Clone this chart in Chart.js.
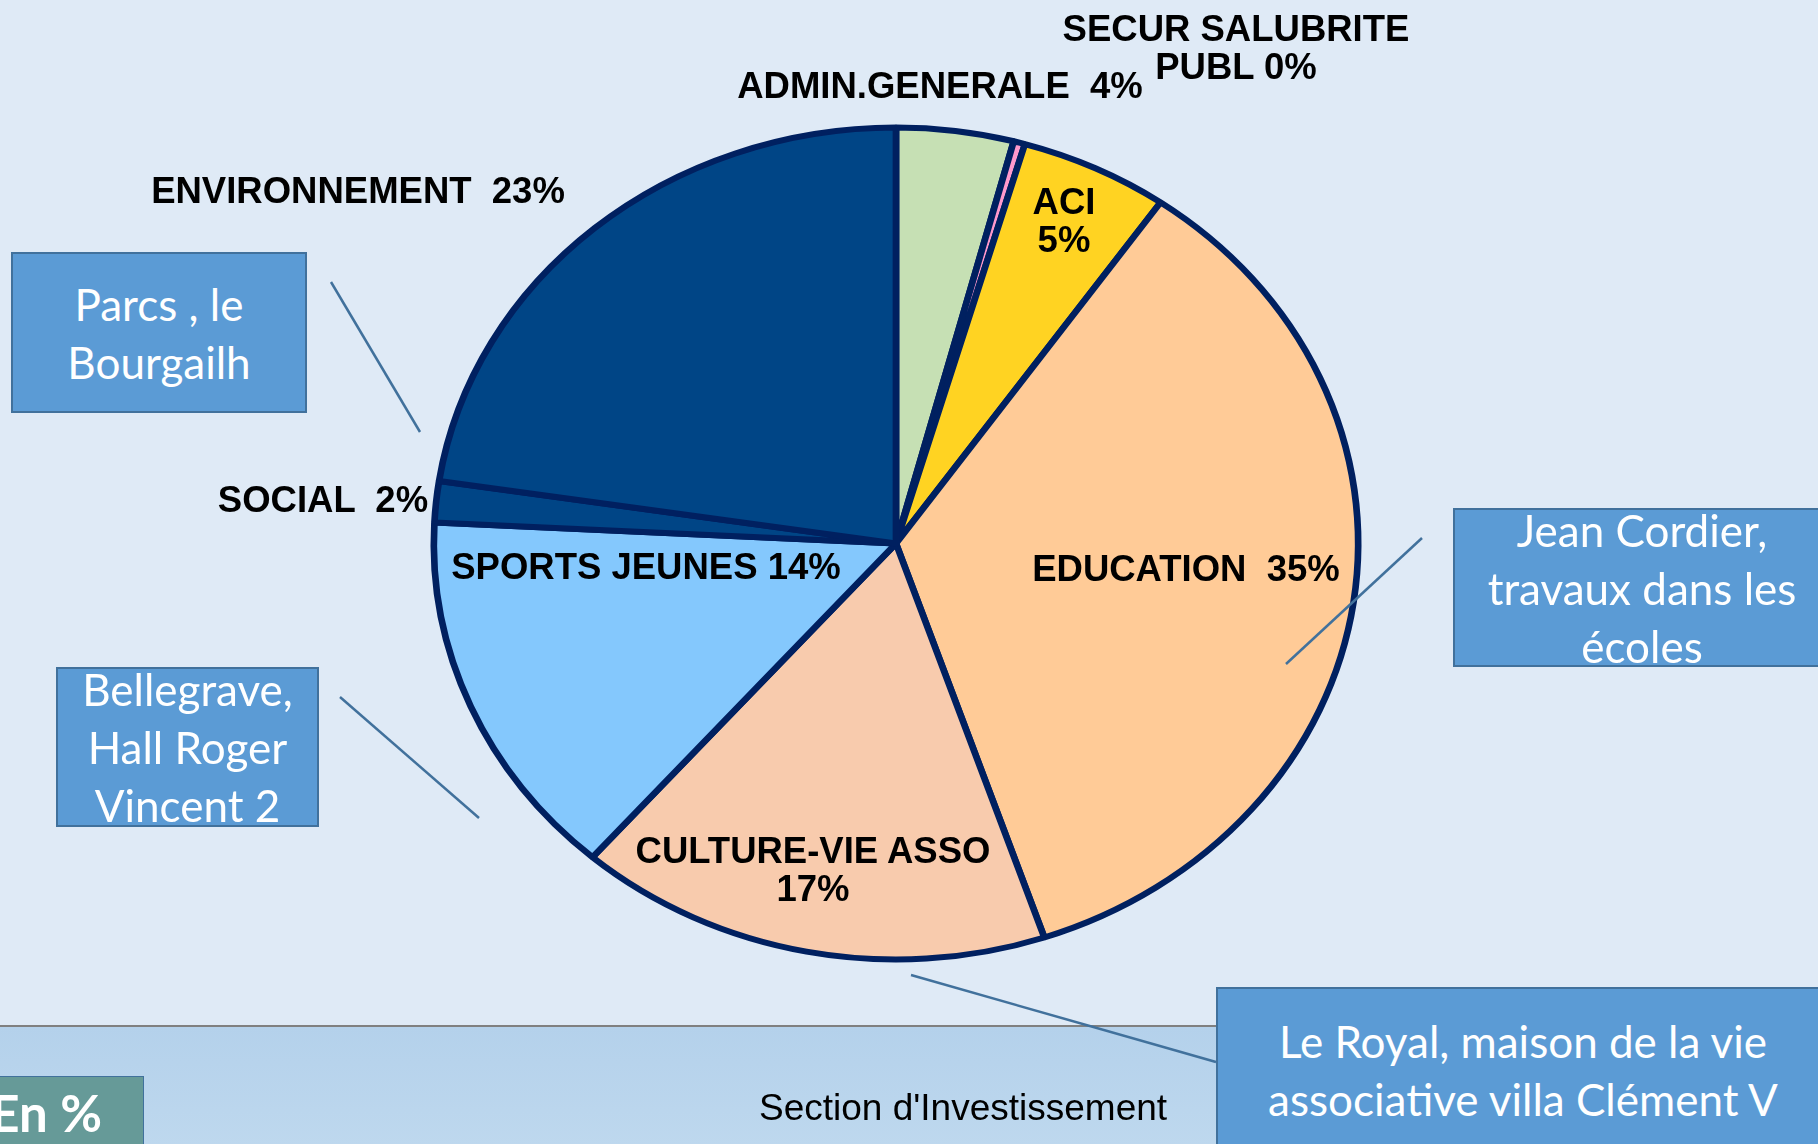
<!DOCTYPE html>
<html lang="fr">
<head>
    <meta charset="UTF-8">
    <title>Section d'Investissement</title>
    <style>
        html, body {
            margin: 0;
            padding: 0;
        }

        body {
            width: 1818px;
            height: 1144px;
            overflow: hidden;
            background: #dfeaf6;
            position: relative;
            font-family: "Liberation Sans", Arial, sans-serif;
        }

        .band {
            position: absolute;
            left: 0;
            top: 1025px;
            width: 1818px;
            height: 119px;
            border-top: 2px solid #808080;
            background: linear-gradient(to bottom, #b4d1eb, #bed8ee);
        }

        #pie {
            position: absolute;
            left: 0;
            top: 0;
        }

        #links {
            position: absolute;
            left: 0;
            top: 0;
        }

        .note {
            position: absolute;
            box-sizing: border-box;
            background: #5b9bd5;
            border: 2px solid #41719c;
            color: #fff;
            font-family: Lato, "Open Sans", sans-serif;
            font-size: 44px;
            line-height: 58px;
            white-space: pre;
            text-align: center;
            display: flex;
            align-items: center;
            justify-content: center;
        }

        .label {
            position: absolute;
            transform: translate(-50%, -50%);
            font-weight: bold;
            font-size: 36.5px;
            line-height: 38px;
            color: #000;
            white-space: pre;
            text-align: center;
        }

        .title {
            position: absolute;
            left: 759px;
            top: 1088px;
            font-size: 37px;
            line-height: 40px;
            color: #000;
            white-space: pre;
        }

        .unit {
            position: absolute;
            left: -4px;
            top: 1076px;
            width: 148px;
            height: 80px;
            box-sizing: border-box;
            background: #669a98;
            border: 1.5px solid #41719c;
        }

        .unit span {
            position: absolute;
            right: 41px;
            top: 6px;
            font-family: Lato, sans-serif;
            font-weight: bold;
            font-size: 51px;
            line-height: 60px;
            color: #fff;
            white-space: pre;
        }
    </style>
</head>
<body>
    <div class="band"></div>
    <canvas id="pie" width="1818" height="1144"></canvas>
    <svg id="links" width="1818" height="1144"></svg>
    <div id="overlay"></div>
    <div class="title">Section d'Investissement</div>
    <div class="unit"><span>En %</span></div>

    <script src="https://cdn.jsdelivr.net/npm/chart.js"></script>
    <script>
        // investment split by sector, in %
        var categories = ['ADMIN.GENERALE', 'SECUR SALUBRITE\nPUBL', 'ACI', 'EDUCATION',
            'CULTURE-VIE ASSO', 'SPORTS JEUNES', 'SOCIAL', 'ENVIRONNEMENT'];
        var values = [4.1, 0.4, 5.2, 35.1, 16.6, 14.4, 1.6, 22.6];
        var colors = ['#c6e0b4', '#ff99cc', '#ffd322', '#ffcb97', '#f8cbad', '#84c8fd', '#004586', '#004586'];

        // where each slice label sits and how name and % are joined
        var labelPos = [[940, 86], [1236, 48], [1064, 221], [1186, 569], [813, 870], [646, 567], [323, 500], [358, 191]];
        var labelSep = ['  ', ' ', '\n', '  ', '\n', ' ', '  ', '  '];

        // callouts
        var notes = [
            'Parcs , le\nBourgailh',
            'Jean Cordier,\ntravaux dans les\nécoles',
            'Bellegrave,\nHall Roger\nVincent 2',
            'Le Royal, maison de la vie\nassociative villa Clément V'
        ];
        var noteBoxes = [[11, 252, 296, 161], [1453, 508, 378, 159], [56, 667, 263, 160], [1216, 987, 614, 165]];
        var noteLines = [[331, 282, 420, 432], [1422, 538, 1286, 664], [340, 697, 479, 818], [911, 975, 1216, 1062]];

        var stretchX = 1.111; // the pie is drawn a bit wider than tall

        var stretchPie = {
            id: 'stretchPie',
            beforeDatasetsDraw: function (chart) {
                var arc = chart.getDatasetMeta(0).data[0];
                var ctx = chart.ctx;
                ctx.save();
                ctx.translate(arc.x, arc.y);
                ctx.scale(stretchX, 1);
                ctx.translate(-arc.x, -arc.y);
            },
            afterDatasetsDraw: function (chart) {
                chart.ctx.restore();
            }
        };

        var ctx = document.getElementById('pie').getContext('2d');
        var pieChart = new Chart(ctx, {
            type: 'pie',
            data: {
                labels: categories,
                datasets: [{
                    data: values,
                    backgroundColor: colors,
                    borderColor: '#002060',
                    borderWidth: 6,
                    clip: false
                }]
            },
            options: {
                responsive: false,
                animation: false,
                events: [],
                radius: 416,
                layout: {
                    padding: { left: 0, right: 26, top: 0, bottom: 57 }
                },
                plugins: {
                    legend: { display: false },
                    tooltip: { enabled: false }
                }
            },
            plugins: [stretchPie]
        });

        // slice labels
        var total = values.reduce(function (a, b) { return a + b; }, 0);
        var overlay = document.getElementById('overlay');
        categories.forEach(function (name, i) {
            var div = document.createElement('div');
            div.className = 'label';
            div.style.left = labelPos[i][0] + 'px';
            div.style.top = labelPos[i][1] + 'px';
            div.textContent = name + labelSep[i] + Math.round(values[i] / total * 100) + '%';
            overlay.appendChild(div);
        });

        // connector lines
        var svg = document.getElementById('links');
        noteLines.forEach(function (l) {
            var line = document.createElementNS('http://www.w3.org/2000/svg', 'line');
            line.setAttribute('x1', l[0]);
            line.setAttribute('y1', l[1]);
            line.setAttribute('x2', l[2]);
            line.setAttribute('y2', l[3]);
            line.setAttribute('stroke', '#41719c');
            line.setAttribute('stroke-width', '2.5');
            svg.appendChild(line);
        });

        // callout boxes
        notes.forEach(function (text, i) {
            var b = noteBoxes[i];
            var div = document.createElement('div');
            div.className = 'note';
            div.style.left = b[0] + 'px';
            div.style.top = b[1] + 'px';
            div.style.width = b[2] + 'px';
            div.style.height = b[3] + 'px';
            div.textContent = text;
            overlay.appendChild(div);
        });
    </script>
</body>
</html>
